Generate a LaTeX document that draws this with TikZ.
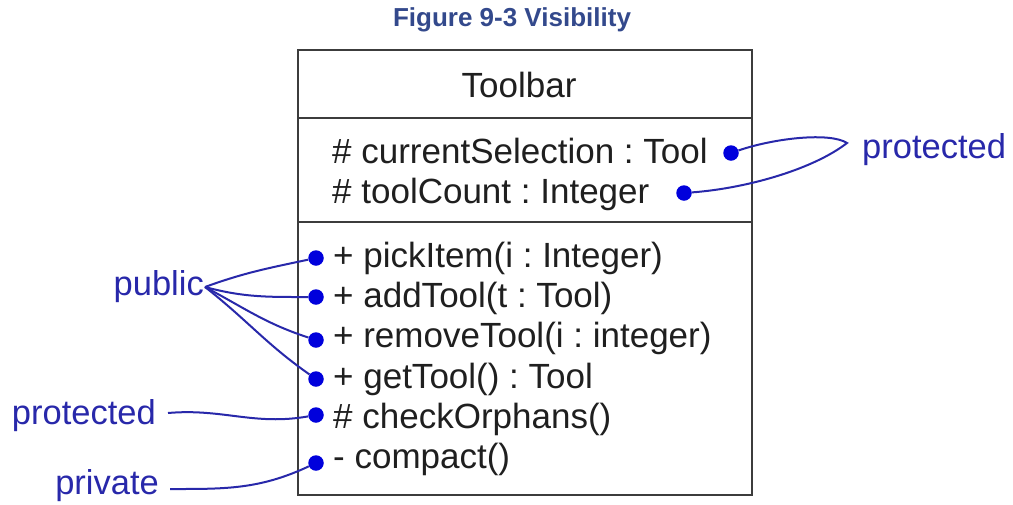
\documentclass[tikz,border=0pt]{standalone}
\usepackage{fontspec}
\setmainfont{Liberation Sans}
\frenchspacing
\definecolor{umlgray}{RGB}{60,60,60}
\definecolor{visblue}{RGB}{40,40,170}
\definecolor{dotblue}{RGB}{0,0,220}
\definecolor{titleblue}{RGB}{51,73,140}
\tikzset{
  member/.style={anchor=base west, inner sep=0pt, text=black!88,
    font=\fontsize{35}{40}\selectfont},
  vislabel/.style={inner sep=1pt, text=visblue, font=\fontsize{34.5}{40}\selectfont},
  visdot/.style={circle, fill=dotblue, inner sep=0pt, minimum size=15.5pt},
  visline/.style={visblue, line width=2pt},
}

\begin{document}
\begin{tikzpicture}[x=1pt,y=-1pt]
\useasboundingbox (0,0) rectangle (1013,504);
\node[text=titleblue, font=\bfseries\fontsize{26}{30}\selectfont] (title) at (512,20) {Figure 9-3 Visibility};
% class box
\draw[umlgray, line width=2.4pt] (298,50) rectangle (752,495);
\draw[umlgray, line width=2.4pt] (298,118) -- (752,118);
\draw[umlgray, line width=2.4pt] (298,222) -- (752,222);
\node[anchor=base, inner sep=0pt, text=black!88, font=\fontsize{35}{40}\selectfont] (cname) at (519,97) {Toolbar};
% attributes
\node[member] (cs) at (332,163) {\# currentSelection : Tool};
\node[member] (tc) at (332,203) {\# toolCount : Integer};
% operations
\node[member] (pick) at (333,267) {+ pickItem(i : Integer)};
\node[member] (add) at (333,307) {+ addTool(t : Tool)};
\node[member] (rem) at (333,347) {+ removeTool(i : integer)};
\node[member] (get) at (333,388) {+ getTool() : Tool};
\node[member] (chk) at (333,428) {\# checkOrphans()};
\node[member] (cmp) at (333,468) {- compact()};
% dots
\node[visdot] (csdot) at (731,153) {};
\node[visdot] (tcdot) at (684,193) {};
\node[visdot] (pickdot) at (316,258) {};
\node[visdot] (adddot) at (316,297) {};
\node[visdot] (remdot) at (316,340) {};
\node[visdot] (getdot) at (316,379) {};
\node[visdot] (chkdot) at (316,415) {};
\node[visdot] (cmpdot) at (316,463) {};
% labels
\node[vislabel, anchor=east] (public) at (205,287) {public};
\node[vislabel, anchor=east] (prot) at (157,416) {protected};
\node[vislabel, anchor=east] (priv) at (160,486) {private};
\node[vislabel, anchor=west] (protr) at (861,150) {protected};
\coordinate (tip) at (847,143);
% connectors
\draw[visline] (public.east) to[out=20,in=192] (pickdot);
\draw[visline] (public.east) to[out=-15,in=180] (adddot);
\draw[visline] (public.east) to[out=-28,in=162] (remdot);
\draw[visline] (public.east) to[out=-38,in=145] (getdot);
\draw[visline] (prot.east) ++(11,-3) to[out=5,in=190] (chkdot);
\draw[visline] (priv.east) ++(10,3) to[out=0,in=205] (cmpdot);
\draw[visline] (csdot) .. controls (775,138) and (830,132) .. (tip)
  .. controls (815,168) and (750,188) .. (tcdot);
\end{tikzpicture}
\end{document}
